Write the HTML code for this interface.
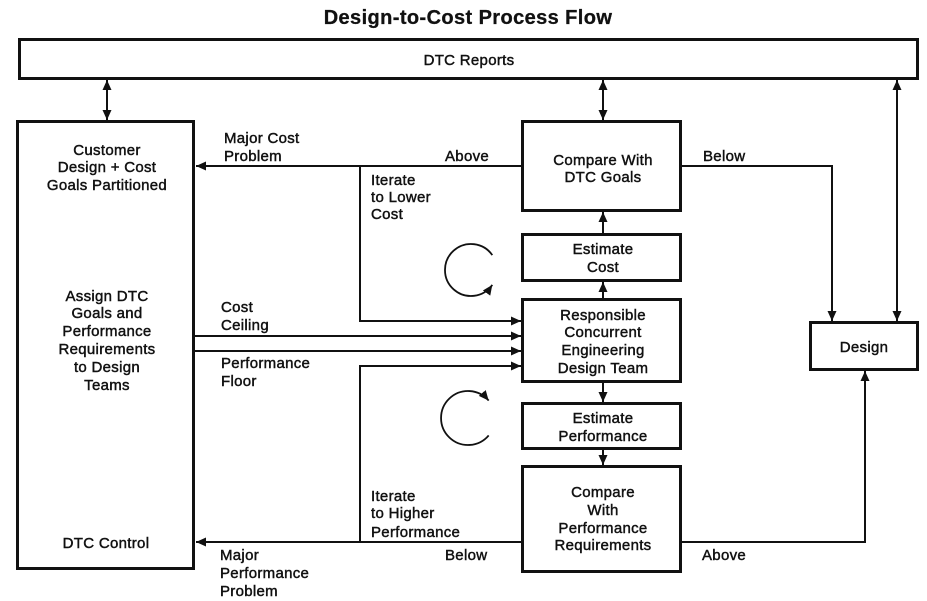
<!DOCTYPE html>
<html><head><meta charset="utf-8"><style>
html,body{margin:0;padding:0;background:#fff;}
svg{display:block;}
text{font-family:"Liberation Sans",Arial,sans-serif;font-size:15px;fill:#111;stroke:#111;stroke-width:0.45px;letter-spacing:0.3px;}
.t{font-size:20px;font-weight:bold;letter-spacing:0.4px;stroke-width:0.3px;}
.c{text-anchor:middle;}
</style></head><body>
<svg width="927" height="601" viewBox="0 0 927 601" xmlns="http://www.w3.org/2000/svg">
<defs>
<marker id="a" markerUnits="userSpaceOnUse" markerWidth="10" markerHeight="10" refX="10" refY="5" orient="auto">
<path d="M0,0.5 L10,5 L0,9.5 z" fill="#111"/>
</marker>
<marker id="s" markerUnits="userSpaceOnUse" markerWidth="10" markerHeight="10" refX="0" refY="5" orient="auto">
<path d="M10,0.5 L0,5 L10,9.5 z" fill="#111"/>
</marker>
</defs>

<text class="t c" x="468" y="24">Design-to-Cost Process Flow</text>

<g fill="none" stroke="#111" stroke-width="3">
<rect x="19.5" y="39.5" width="898" height="39"/>
<rect x="17.5" y="121.5" width="176" height="447"/>
<rect x="522.5" y="121.5" width="158" height="89"/>
<rect x="522.5" y="234.5" width="158" height="46"/>
<rect x="522.5" y="299.5" width="158" height="82"/>
<rect x="522.5" y="403.5" width="158" height="45"/>
<rect x="522.5" y="466.5" width="158" height="105"/>
<rect x="810.5" y="322.5" width="107" height="47"/>
</g>

<g fill="none" stroke="#111" stroke-width="2">
<line x1="107" y1="80" x2="107" y2="120" marker-start="url(#s)" marker-end="url(#a)"/>
<line x1="603" y1="80" x2="603" y2="120" marker-start="url(#s)" marker-end="url(#a)"/>
<line x1="897" y1="80" x2="897" y2="321" marker-start="url(#s)" marker-end="url(#a)"/>

<line x1="521" y1="166" x2="196" y2="166" marker-end="url(#a)"/>
<polyline points="360,166 360,321 521,321" marker-end="url(#a)"/>
<line x1="195" y1="336" x2="521" y2="336" marker-end="url(#a)"/>
<line x1="195" y1="351" x2="521" y2="351" marker-end="url(#a)"/>
<polyline points="360,542 360,366 521,366" marker-end="url(#a)"/>
<line x1="521" y1="542" x2="196" y2="542" marker-end="url(#a)"/>

<polyline points="682,166 832,166 832,321" marker-end="url(#a)"/>
<polyline points="682,542 865,542 865,371" marker-end="url(#a)"/>

<line x1="603" y1="298" x2="603" y2="282" marker-end="url(#a)"/>
<line x1="603" y1="233" x2="603" y2="212" marker-end="url(#a)"/>
<line x1="603" y1="382" x2="603" y2="402" marker-end="url(#a)"/>
<line x1="603" y1="449" x2="603" y2="465" marker-end="url(#a)"/>

<path d="M492.3,255.1 A26,26 0 1 0 492.3,284.9" stroke-width="1.8" marker-end="url(#a)"/>
<path d="M488.7,435.4 A27,27 0 1 1 488.7,400.6" stroke-width="1.8" marker-end="url(#a)"/>
</g>

<text class="c" x="469" y="65">DTC Reports</text>

<text class="c" x="107" y="155">Customer</text>
<text class="c" x="107" y="172">Design + Cost</text>
<text class="c" x="107" y="190">Goals Partitioned</text>

<text class="c" x="107" y="301">Assign DTC</text>
<text class="c" x="107" y="318">Goals and</text>
<text class="c" x="107" y="336">Performance</text>
<text class="c" x="107" y="354">Requirements</text>
<text class="c" x="107" y="372">to Design</text>
<text class="c" x="107" y="390">Teams</text>

<text class="c" x="106" y="548">DTC Control</text>

<text x="224" y="143">Major Cost</text>
<text x="224" y="161">Problem</text>

<text x="445" y="161">Above</text>
<text x="371" y="185">Iterate</text>
<text x="371" y="202">to Lower</text>
<text x="371" y="219">Cost</text>

<text class="c" x="603" y="165">Compare With</text>
<text class="c" x="603" y="182">DTC Goals</text>

<text x="703" y="161">Below</text>

<text class="c" x="603" y="254">Estimate</text>
<text class="c" x="603" y="272">Cost</text>

<text class="c" x="603" y="320">Responsible</text>
<text class="c" x="603" y="337">Concurrent</text>
<text class="c" x="603" y="355">Engineering</text>
<text class="c" x="603" y="373">Design Team</text>

<text x="221" y="312">Cost</text>
<text x="221" y="330">Ceiling</text>
<text x="221" y="368">Performance</text>
<text x="221" y="386">Floor</text>

<text class="c" x="864" y="352">Design</text>

<text class="c" x="603" y="423">Estimate</text>
<text class="c" x="603" y="441">Performance</text>

<text class="c" x="603" y="497">Compare</text>
<text class="c" x="603" y="515">With</text>
<text class="c" x="603" y="533">Performance</text>
<text class="c" x="603" y="550">Requirements</text>

<text x="702" y="560">Above</text>
<text x="445" y="560">Below</text>

<text x="371" y="501">Iterate</text>
<text x="371" y="518">to Higher</text>
<text x="371" y="537">Performance</text>

<text x="220" y="560">Major</text>
<text x="220" y="578">Performance</text>
<text x="220" y="596">Problem</text>
</svg>
</body></html>
